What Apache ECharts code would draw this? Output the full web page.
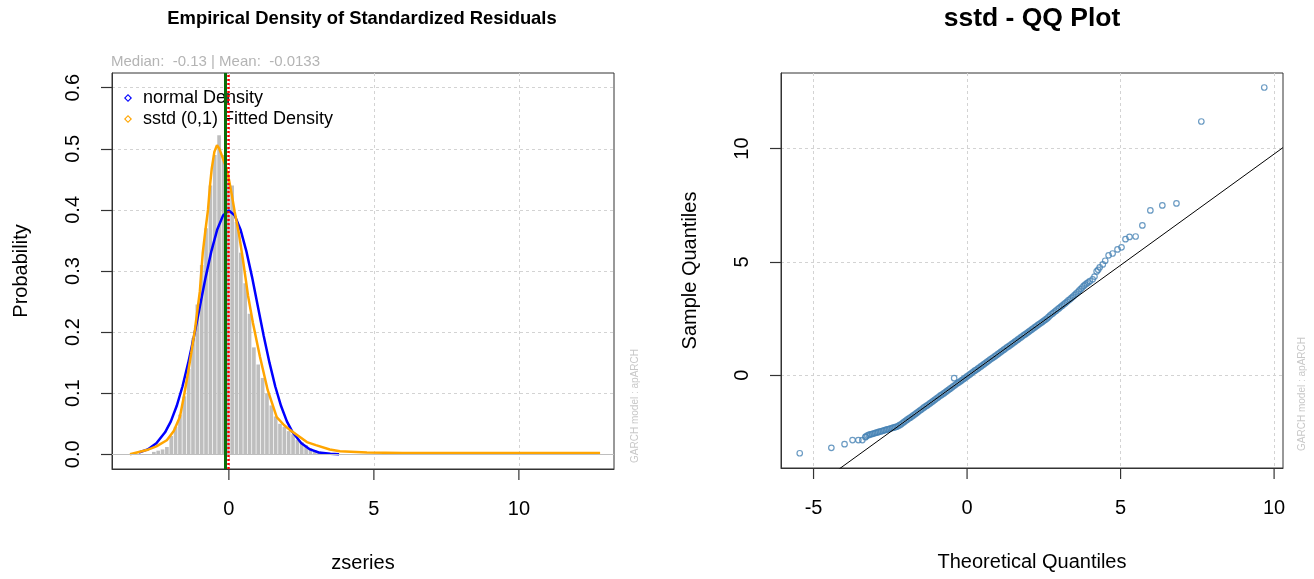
<!DOCTYPE html>
<html>
<head>
<meta charset="utf-8">
<title>Standardized Residuals - sstd</title>
<script src="https://cdn.jsdelivr.net/npm/echarts@6/dist/echarts.min.js"></script>
<style>
html, body { margin: 0; padding: 0; background: #fff; }
#main { width: 1314px; height: 579px; }
</style>
</head>
<body>
<div id="main"></div>
<script>
// histogram of standardized residuals (left edge of each bin, density)
var binWidth = 0.15;
var histLeft = [-2.65,-2.50,-2.35,-2.20,-2.05,-1.90,-1.75,-1.60,-1.45,-1.30,-1.15,-1.00,-0.85,-0.70,-0.55,-0.40,-0.25,-0.10,0.05,0.20,
                0.35,0.50,0.65,0.80,0.95,1.10,1.25,1.40,1.55,1.70,1.85,2.00,2.15,2.30,2.45,2.60,2.75,2.90,3.05,3.20];
var histDensity = [0.004,0.006,0.008,0.012,0.030,0.045,0.065,0.095,0.140,0.190,0.245,0.310,0.370,0.440,0.490,0.522,0.490,0.460,0.440,0.380,
                   0.330,0.280,0.230,0.175,0.147,0.125,0.100,0.080,0.062,0.050,0.045,0.038,0.033,0.024,0.020,0.015,0.010,0.007,0.005,0.003];

// normal density
var normX = [-3.1,-2.8,-2.5,-2.2,-2.0,-1.8,-1.6,-1.4,-1.2,-1.0,-0.8,-0.6,-0.4,-0.2,0.0,0.2,0.4,0.6,0.8,1.0,1.2,1.4,1.6,1.8,2.0,2.2,2.5,2.8,3.1,3.5,3.8];
var normY = [0.003,0.008,0.018,0.036,0.054,0.079,0.111,0.150,0.194,0.242,0.290,0.333,0.368,0.391,0.399,0.391,0.368,0.333,0.290,0.242,0.194,0.150,0.111,0.079,0.054,0.036,0.018,0.008,0.003,0.001,0.000];

// sstd (0,1) fitted density
var sstdX = [-3.41,-2.83,-2.5,-2.14,-1.9,-1.69,-1.55,-1.41,-1.3,-1.17,-1.0,-0.9,-0.8,-0.72,-0.65,-0.59,-0.5,-0.41,-0.33,-0.25,-0.2,-0.1,0.0,0.1,0.2,0.35,0.48,0.66,0.83,1.07,1.34,1.65,1.9,2.1,2.4,2.69,3.0,3.48,3.83,4.76,6,8,10,12.8];
var sstdY = [0,0.007,0.013,0.023,0.038,0.061,0.095,0.133,0.165,0.204,0.267,0.33,0.37,0.40,0.44,0.468,0.495,0.506,0.50,0.49,0.487,0.47,0.45,0.425,0.397,0.36,0.32,0.26,0.215,0.16,0.105,0.061,0.048,0.04,0.03,0.02,0.015,0.008,0.005,0.003,0.002,0.002,0.002,0.002];

var medianZ = -0.13, meanZ = -0.0133;

// QQ plot: theoretical vs sample quantiles
var qqX = [-5.45,-4.42,-3.99,-3.73,-3.54,-3.41,-3.31,
  -3.30,-3.25,-3.20,-3.15,-3.10,-3.05,-3.00,-2.95,-2.90,-2.85,-2.80,-2.75,-2.70,-2.65,-2.60,-2.55,-2.50,-2.45,-2.40,-2.35,-2.30,-2.25,
  -2.20,-2.15,-2.10,-2.05,-2.00,-1.95,-1.90,-1.85,-1.80,-1.75,-1.70,-1.65,-1.60,-1.55,-1.50,-1.45,-1.40,-1.35,-1.30,-1.25,-1.20,-1.15,
  -1.10,-1.05,-1.00,-0.95,-0.90,-0.85,-0.80,-0.75,-0.70,-0.65,-0.60,-0.55,-0.50,-0.45,-0.42,-0.40,-0.35,-0.30,-0.25,-0.20,-0.15,-0.10,-0.05,
  0.00,0.05,0.10,0.15,0.20,0.25,0.30,0.35,0.40,0.45,0.50,0.55,0.60,0.65,0.70,0.75,0.80,0.85,0.90,0.95,1.00,1.05,1.10,1.15,1.20,1.25,
  1.30,1.35,1.40,1.45,1.50,1.55,1.60,1.65,1.70,1.75,1.80,1.85,1.90,1.95,2.00,2.05,2.10,2.15,2.20,2.25,2.30,2.35,2.40,2.45,2.50,2.55,2.60,2.65,
  2.70,2.75,2.80,2.85,2.90,2.95,3.00,3.05,3.10,3.15,3.20,3.25,3.30,3.35,3.40,3.45,3.50,3.55,3.60,3.65,3.70,3.75,3.80,3.85,3.90,3.95,4.00,
  4.09,4.15,4.22,4.27,4.32,4.42,4.50,4.61,4.74,4.90,5.03,5.16,5.29,5.49,5.71,5.97,6.36,6.82,7.63,9.68];
var qqY = [-3.44,-3.20,-3.04,-2.86,-2.86,-2.86,-2.73,
  -2.70,-2.66,-2.63,-2.61,-2.59,-2.57,-2.55,-2.53,-2.51,-2.49,-2.47,-2.45,-2.43,-2.41,-2.39,-2.37,-2.35,-2.33,-2.31,-2.29,-2.27,-2.24,
  -2.20,-2.16,-2.11,-2.06,-2.01,-1.96,-1.91,-1.87,-1.82,-1.77,-1.72,-1.67,-1.62,-1.57,-1.52,-1.47,-1.42,-1.37,-1.33,-1.28,-1.23,-1.18,
  -1.13,-1.08,-1.03,-0.98,-0.93,-0.88,-0.84,-0.79,-0.74,-0.69,-0.64,-0.59,-0.54,-0.49,-0.13,-0.44,-0.39,-0.34,-0.30,-0.25,-0.20,-0.15,-0.10,
  -0.05,0.00,0.05,0.10,0.15,0.20,0.24,0.29,0.34,0.39,0.44,0.49,0.54,0.59,0.64,0.69,0.74,0.78,0.83,0.88,0.93,0.98,1.03,1.08,1.13,1.18,
  1.23,1.27,1.32,1.37,1.42,1.47,1.52,1.57,1.62,1.67,1.72,1.77,1.81,1.86,1.91,1.96,2.01,2.06,2.11,2.16,2.21,2.26,2.30,2.35,2.40,2.45,2.50,2.56,
  2.63,2.69,2.74,2.80,2.85,2.91,2.96,3.02,3.07,3.13,3.18,3.24,3.30,3.35,3.41,3.47,3.53,3.60,3.66,3.73,3.80,3.87,3.94,4.00,4.05,4.10,4.15,
  4.23,4.35,4.58,4.65,4.76,4.89,5.05,5.29,5.37,5.55,5.64,6.00,6.10,6.12,6.61,7.27,7.49,7.58,11.19,12.69];

// qqline end points
var qqLineX = [-6.06, 10.29];
var qqLineY = [-5.99, 10.04];

var leftTicksX = [0, 5, 10];
var leftTicksY = [0, 0.1, 0.2, 0.3, 0.4, 0.5, 0.6];
var rightTicksX = [-5, 0, 5, 10];
var rightTicksY = [0, 5, 10];

var FONT = '"Liberation Sans", Arial, sans-serif';

function zip(a, b) {
  var out = [];
  for (var i = 0; i < a.length; i++) out.push([a[i], b[i]]);
  return out;
}

var histData = [];
for (var i = 0; i < histLeft.length; i++) {
  histData.push([histLeft[i], histLeft[i] + binWidth, histDensity[i]]);
}

function axisX(min, max, ticks, gridIndex, name) {
  return {
    type: 'value', gridIndex: gridIndex, min: min, max: max,
    name: name, nameLocation: 'middle', nameGap: 84,
    nameTextStyle: { fontFamily: FONT, fontSize: 20, color: '#000' },
    axisLine: { show: true, onZero: false, lineStyle: { color: '#333', width: 1 } },
    axisTick: { show: false, customValues: ticks },
    axisLabel: { customValues: ticks, margin: 30, fontFamily: FONT, fontSize: 20, color: '#000',
                 formatter: function (v) { return String(v); } },
    splitLine: { show: true, lineStyle: { color: '#d3d3d3', type: [3, 3], width: 1 } }
  };
}
function axisY(min, max, ticks, gridIndex, name, digits) {
  return {
    type: 'value', gridIndex: gridIndex, min: min, max: max,
    name: name, nameLocation: 'middle', nameGap: 81, nameRotate: 90,
    nameTextStyle: { fontFamily: FONT, fontSize: 20, color: '#000' },
    axisLine: { show: true, onZero: false, lineStyle: { color: '#333', width: 1 } },
    axisTick: { show: true, length: 11, customValues: ticks, lineStyle: { color: '#333', width: 1.2 } },
    axisLabel: { customValues: ticks, margin: 29, rotate: 90, fontFamily: FONT, fontSize: 20, color: '#000',
                 formatter: function (v) { return v.toFixed(digits); } },
    splitLine: { show: true, lineStyle: { color: '#d3d3d3', type: [3, 3], width: 1 } }
  };
}

// x tick marks below each plot, placed through the x scale (not clipped to the plot area)
function tickMarks(ticks, gridIndex) {
  return {
    name: 'xticks' + gridIndex, type: 'custom', xAxisIndex: gridIndex, yAxisIndex: gridIndex,
    data: ticks.map(function (v) { return [v, 0]; }), encode: { x: 0, y: 1 },
    clip: false, silent: true, z: 10,
    renderItem: function (params, api) {
      var px = api.coord([api.value(0), 0])[0];
      var bottom = params.coordSys.y + params.coordSys.height;
      return {
        type: 'line',
        shape: { x1: px, y1: bottom, x2: px, y2: bottom + 11 },
        style: { stroke: '#333', lineWidth: 1.2 }
      };
    }
  };
}

var chart = echarts.init(document.getElementById('main'));

var diamond = 'path://M5,0L10,5L5,10L0,5Z M5,2L2,5L5,8L8,5Z';

var option = {
  animation: false,
  backgroundColor: '#fff',
  grid: [
    { left: 112, top: 73, width: 502, height: 396, show: true, borderColor: '#333', borderWidth: 1 },
    { left: 781, top: 73, width: 502, height: 395, show: true, borderColor: '#333', borderWidth: 1 }
  ],
  xAxis: [
    axisX(-4.03, 13.28, leftTicksX, 0, 'zseries'),
    axisX(-6.06, 10.29, rightTicksX, 1, 'Theoretical Quantiles')
  ],
  yAxis: [
    axisY(-0.024, 0.624, leftTicksY, 0, 'Probability', 1),
    axisY(-4.09, 13.33, rightTicksY, 1, 'Sample Quantiles', 0)
  ],
  legend: {
    data: ['normal Density', 'sstd (0,1) Fitted Density'],
    orient: 'vertical', left: 119, top: 84,
    icon: diamond, itemWidth: 8, itemHeight: 8, itemGap: 3,
    textStyle: { fontFamily: FONT, fontSize: 18, color: '#000', lineHeight: 18, padding: [0, 0, 0, 6] }
  },
  graphic: [
    { type: 'text', x: 362, y: 19, style: { text: 'Empirical Density of Standardized Residuals', font: 'bold 18.4px ' + FONT, fill: '#000', align: 'center', verticalAlign: 'middle', textAlign: 'center', textVerticalAlign: 'middle' } },
    { type: 'text', x: 111, y: 62, style: { text: 'Median:  -0.13 | Mean:  -0.0133', font: '15px ' + FONT, fill: '#b4b4b4', align: 'left', verticalAlign: 'middle', textAlign: 'left', textVerticalAlign: 'middle' } },
    { type: 'text', x: 1032, y: 19, style: { text: 'sstd - QQ Plot', font: 'bold 26.5px ' + FONT, fill: '#000', align: 'center', verticalAlign: 'middle', textAlign: 'center', textVerticalAlign: 'middle' } },
    { type: 'text', x: 635, y: 406, rotation: Math.PI / 2, style: { text: 'GARCH model : apARCH', font: '10px ' + FONT, fill: '#c8c8c8', align: 'center', verticalAlign: 'middle', textAlign: 'center', textVerticalAlign: 'middle' } },
    { type: 'text', x: 1302, y: 394, rotation: Math.PI / 2, style: { text: 'GARCH model : apARCH', font: '10px ' + FONT, fill: '#c8c8c8', align: 'center', verticalAlign: 'middle', textAlign: 'center', textVerticalAlign: 'middle' } }
  ],
  series: [
    {
      name: 'histogram', type: 'custom', xAxisIndex: 0, yAxisIndex: 0,
      data: histData, encode: { x: [0, 1], y: 2 }, z: 1,
      renderItem: function (params, api) {
        var p0 = api.coord([api.value(0), api.value(2)]);
        var p1 = api.coord([api.value(1), 0]);
        return {
          type: 'rect',
          shape: { x: p0[0], y: p0[1], width: Math.max(p1[0] - p0[0] - 0.7, 1), height: p1[1] - p0[1] },
          style: { fill: '#bebebe' }
        };
      },
      markLine: {
        silent: true, symbol: ['none', 'none'], label: { show: false },
        lineStyle: { color: '#bebebe', type: 'solid', width: 1 },
        data: [{ yAxis: 0 }]
      }
    },
    {
      name: 'normal Density', type: 'line', xAxisIndex: 0, yAxisIndex: 0,
      data: zip(normX, normY), showSymbol: false, symbol: 'none', z: 3,
      color: '#0000ff', lineStyle: { color: '#0000ff', width: 2.5 }
    },
    {
      name: 'sstd (0,1) Fitted Density', type: 'line', xAxisIndex: 0, yAxisIndex: 0,
      data: zip(sstdX, sstdY), showSymbol: false, symbol: 'none', z: 3,
      color: '#ffa500', lineStyle: { color: '#ffa500', width: 2.5 },
      markLine: {
        silent: true, symbol: ['none', 'none'], label: { show: false },
        data: [
          { xAxis: medianZ, lineStyle: { color: '#0a6e0a', type: 'solid', width: 3 } },
          { xAxis: meanZ, lineStyle: { color: '#ff0000', type: [2, 2], width: 2.5 } }
        ]
      }
    },
    {
      name: 'sample quantiles', type: 'scatter', xAxisIndex: 1, yAxisIndex: 1,
      data: zip(qqX, qqY), symbol: 'circle', symbolSize: 5.5, z: 2,
      itemStyle: { color: 'rgba(0,0,0,0)', borderColor: '#4682b4', borderWidth: 1.2 }
    },
    {
      name: 'qqline', type: 'line', xAxisIndex: 1, yAxisIndex: 1,
      data: zip(qqLineX, qqLineY), showSymbol: false, symbol: 'none', z: 3, clip: true,
      lineStyle: { color: '#000', width: 1 }
    },
    tickMarks(leftTicksX, 0),
    tickMarks(rightTicksX, 1)
  ]
};

chart.setOption(option);
</script>
</body>
</html>
